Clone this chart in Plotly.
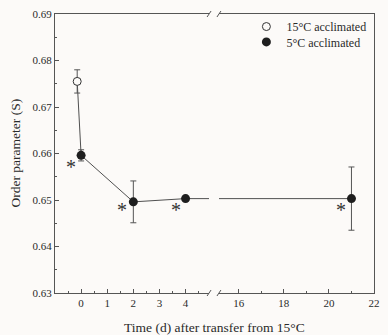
import plotly.graph_objects as go

# ---- data ----
days_15 = [-0.15]
S_15 = [0.6755]
err_15 = [0.0025]

days_5 = [0, 2, 4, 21]
S_5 = [0.6596, 0.6496, 0.6503, 0.6503]
err_5 = [0.0012, 0.0045, 0.0004, 0.0068]

line_days = days_15 + days_5
line_S = S_15 + S_5

star_days_left = [-0.38, 1.56, 3.65]
star_days_right = [20.52]
star_S_left = [0.6572, 0.6479, 0.6479]
star_S_right = [0.6479]

y_ticks = [0.63, 0.64, 0.65, 0.66, 0.67, 0.68, 0.69]
x_ticks_left = [0, 1, 2, 3, 4]
x_ticks_right = [16, 18, 20, 22]

# ---- styling ----
BG = "#fcfaf8"
INK = "#2a2a2a"
AX = "#555555"
FONT = "Liberation Serif"

left_dom = [0.0, 0.483]
right_dom = [0.514, 1.0]

fig = go.Figure()

for xa, ya in (("x", "y"), ("x2", "y2")):
    fig.add_trace(go.Scatter(
        x=line_days, y=line_S, mode="lines",
        line=dict(color="#505050", width=1), showlegend=False,
        xaxis=xa, yaxis=ya, hoverinfo="skip"))

fig.add_trace(go.Scatter(
    x=days_15, y=S_15, mode="markers", name="15°C acclimated", legend="legend",
    marker=dict(symbol="circle", size=8, color=BG, line=dict(color="#333333", width=1)),
    error_y=dict(type="data", array=err_15, color="#555555", thickness=1, width=3),
    xaxis="x", yaxis="y"))

fig.add_trace(go.Scatter(
    x=days_5, y=S_5, mode="markers", name="5°C acclimated", legendgroup="g5",
    legend="legend2",
    marker=dict(symbol="circle", size=9, color="#1e1e1e"),
    error_y=dict(type="data", array=err_5, color="#555555", thickness=1, width=3),
    xaxis="x", yaxis="y"))
fig.add_trace(go.Scatter(
    x=days_5, y=S_5, mode="markers", name="5°C acclimated", legendgroup="g5",
    legend="legend2", showlegend=False,
    marker=dict(symbol="circle", size=9, color="#1e1e1e"),
    error_y=dict(type="data", array=err_5, color="#555555", thickness=1, width=3),
    xaxis="x2", yaxis="y2"))

# asterisks
for xs, ys, xr, yr in ((star_days_left, star_S_left, "x", "y"),
                       (star_days_right, star_S_right, "x2", "y2")):
    for xv, yv in zip(xs, ys):
        fig.add_annotation(x=xv, y=yv, xref=xr, yref=yr, text="*", showarrow=False,
                           font=dict(family=FONT, size=20, color="#333333"),
                           xanchor="center", yanchor="middle")

axis_common = dict(showline=True, linecolor=AX, linewidth=1, ticks="inside",
                   tickcolor=AX, ticklen=4, tickwidth=1, showgrid=False, zeroline=False,
                   tickfont=dict(family=FONT, size=11, color=INK))

leg_common = dict(xanchor="left", yanchor="middle", bgcolor="rgba(0,0,0,0)",
                  font=dict(family=FONT, size=12, color=INK), itemwidth=30)

fig.update_layout(
    width=388, height=335,
    margin=dict(l=55, r=8, t=11, b=42),
    paper_bgcolor=BG, plot_bgcolor=BG,
    font=dict(family=FONT, color=INK),
    xaxis=dict(domain=left_dom, range=[-1, 4.9], tickvals=x_ticks_left, mirror=True,
               minor=dict(dtick=0.5, tick0=0, ticks="inside", ticklen=2, tickcolor=AX),
               anchor="y", **axis_common),
    xaxis2=dict(domain=right_dom, range=[15.12, 22], tickvals=x_ticks_right, mirror=True,
                minor=dict(dtick=1, tick0=0, ticks="inside", ticklen=2, tickcolor=AX),
                anchor="y2", **axis_common),
    yaxis=dict(range=[0.63, 0.69], tickvals=y_ticks, tickformat=".2f",
               minor=dict(dtick=0.005, tick0=0, ticks="inside", ticklen=2, tickcolor=AX),
               anchor="x", **axis_common),
    yaxis2=dict(range=[0.63, 0.69], matches="y", anchor="x2", side="right",
                showline=True, linecolor=AX, linewidth=1, showticklabels=False,
                ticks="", showgrid=False, zeroline=False),
    legend=dict(x=0.600, y=0.955, **leg_common),
    legend2=dict(x=0.600, y=0.900, **leg_common),
    showlegend=True,
)

# axis titles
fig.add_annotation(x=0.5, y=0, xref="paper", yref="paper", yshift=-25,
                   text="Time (d) after transfer from 15°C", showarrow=False,
                   font=dict(family=FONT, size=13.5, color=INK), yanchor="top")
fig.add_annotation(x=0, y=0.5, xref="paper", yref="paper", xshift=-40,
                   text="Order parameter (S)", textangle=-90, showarrow=False,
                   font=dict(family=FONT, size=13.5, color=INK), xanchor="center")

# axis break marks
for xa in (left_dom[1], right_dom[0]):
    for ya in (0, 1):
        fig.add_shape(type="line", xref="paper", yref="paper",
                      xsizemode="pixel", ysizemode="pixel", xanchor=xa, yanchor=ya,
                      x0=-2, x1=2, y0=-3, y1=3,
                      line=dict(color=AX, width=1))

fig.write_html("out.html", config={"displayModeBar": False},
               post_script="document.body.style.margin='0';document.body.style.background='%s';" % BG)
